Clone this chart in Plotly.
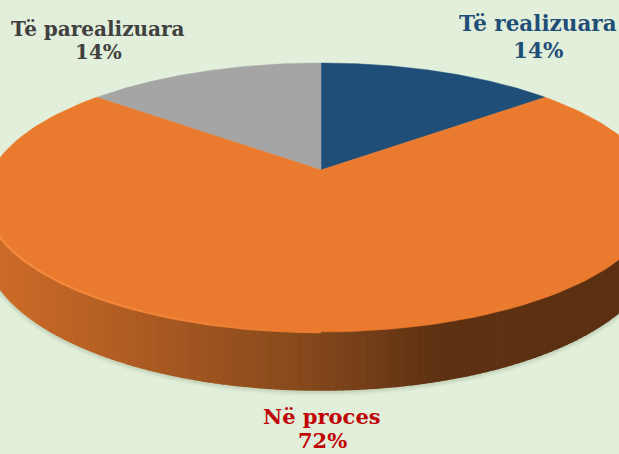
import numpy as np
import plotly.graph_objects as go

categories = ["Të realizuara", "Në proces", "Të parealizuara"]
values = [14, 72, 14]
colors = ["#1F4E79", "#EA7B2E", "#A5A5A5"]
label_colors = ["#1F4E79", "#C00000", "#404040"]
label_size = [21.5, 21, 20]
label_x = [538, 322, 98]
name_y = [23, 416, 29]
pct_y = [50, 440, 52]

W, H = 619, 454
CX, CY = 321, 170      # pivot of the slices on screen
RX, RY = 329, 128.9    # scale of the projected disc
K = 0.2045             # perspective factor
DEPTH = 46
BG = "#E2EFDA"
SIDE_STOPS = [(0, (205, 107, 40)), (150, (170, 90, 34)), (310, (133, 72, 28)),
              (440, (93, 49, 18)), (619, (92, 48, 18))]


def project(theta, drop=0.0):
    """theta is degrees clockwise from the top of the disc."""
    t = np.radians(theta)
    u, v = np.sin(t), np.cos(t)
    w = 1 + K * v
    return CX + RX * u / w, CY + (drop * DEPTH - RY * v) / w


def side_colour(x):
    xs = [s[0] for s in SIDE_STOPS]
    rgb = [np.interp(x, xs, [s[1][i] for s in SIDE_STOPS]) for i in range(3)]
    return "rgb(%d,%d,%d)" % tuple(int(round(c)) for c in rgb)


fig = go.Figure()


def poly(x, y, fill, name, lw=1):
    fig.add_trace(go.Scatter(x=x, y=y, mode="lines", fill="toself", fillcolor=fill,
                             line=dict(color=fill, width=lw), hoverinfo="skip",
                             name=name, showlegend=False))


# soft shadow below the disc
sx, sy = project(np.linspace(85, 275, 200), 1.0)
for width, col in [(10, "#DDE9D5"), (7, "#D5E3CD"), (4, "#C9D9C1")]:
    fig.add_trace(go.Scatter(x=sx, y=sy + 1.5, mode="lines", line=dict(color=col, width=width),
                             hoverinfo="skip", showlegend=False))

# rim, shaded left to right
edges = np.linspace(85, 275, 181)
for a, b in zip(edges[:-1], edges[1:]):
    th = np.array([a, b])
    xt, yt = project(th)
    xb, yb = project(th[::-1], 1.0)
    poly(list(xt) + list(xb), list(yt) + list(yb), side_colour((xt.mean() + xb.mean()) / 2), "rim", 2)

# top face, slices drawn from the values
bounds = np.cumsum([0] + values) / sum(values) * 360
for i in [0, 2, 1]:
    th = np.linspace(bounds[i], bounds[i + 1], 160)
    x, y = project(th)
    poly([CX] + list(x) + [CX], [CY] + list(y) + [CY], colors[i], categories[i], 0.5)

# highlight on the near-left edge, fading into the face colour at its right end
edge_fade = np.linspace(180, 262, 33)
for a, b in zip(edge_fade[:-1], edge_fade[1:]):
    m = (a + b) / 2
    s = min(1.0, (m - 180) / 45)
    col = "rgb(%d,%d,%d)" % (234 + 12 * s, 123 + 17 * s, 46 + 19 * s)
    x, y = project(np.array([a, b]))
    fig.add_trace(go.Scatter(x=x, y=y, mode="lines", line=dict(color=col, width=2.2),
                             hoverinfo="skip", showlegend=False))

for cat, val, col, size, lx, ny, py in zip(categories, values, label_colors, label_size,
                                           label_x, name_y, pct_y):
    font = dict(family="DejaVu Serif", size=size, color=col)
    fig.add_annotation(x=lx, y=ny, text=f"<b>{cat}</b>", showarrow=False, font=font,
                       xanchor="center", yanchor="middle")
    fig.add_annotation(x=lx, y=py, text=f"<b>{val}%</b>", showarrow=False, font=font,
                       xanchor="center", yanchor="middle")

fig.update_xaxes(visible=False, range=[0, W], fixedrange=True)
fig.update_yaxes(visible=False, range=[H, 0], fixedrange=True)
fig.update_layout(width=W, height=H, margin=dict(l=0, r=0, t=0, b=0),
                  paper_bgcolor=BG, plot_bgcolor=BG, showlegend=False)
fig.write_html("out.html", config={"displayModeBar": False},
               post_script="document.documentElement.style.overflow='hidden';document.body.style.margin='0';document.body.style.background='%s';" % BG)
